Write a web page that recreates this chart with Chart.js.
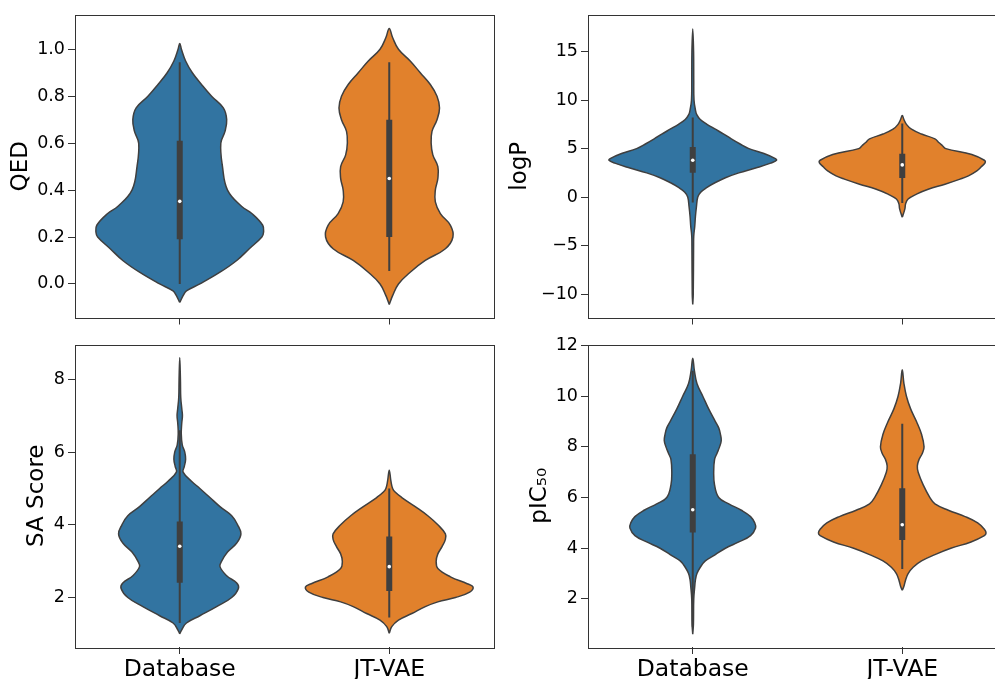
<!DOCTYPE html>
<html>
<head>
<meta charset="utf-8">
<script src="https://cdn.jsdelivr.net/npm/chart.js@4.4.0/dist/chart.umd.min.js"></script>
<style>
  html, body { margin: 0; padding: 0; background: #fff; overflow: hidden; }
  body { width: 995px; height: 679px; position: relative; }
  canvas { position: absolute; }
</style>
</head>
<body>
<canvas id="qed" style="left:0;top:0" width="500" height="331"></canvas>
<canvas id="logp" style="left:500px;top:0" width="520" height="331"></canvas>
<canvas id="sa" style="left:0;top:331px" width="500" height="348"></canvas>
<canvas id="pic" style="left:500px;top:331px" width="520" height="348"></canvas>
<script>
const groups = ['Database', 'JT-VAE'];

// QED
const qedTicks = [0, 0.2, 0.4, 0.6, 0.8, 1.0];
const qedDbY = [-0.079, -0.05, -0.03, 0, 0.05, 0.1, 0.15, 0.2, 0.22, 0.25, 0.3, 0.33, 0.4, 0.5, 0.6, 0.65, 0.7, 0.75, 0.8, 0.85, 0.9, 0.95, 1.0, 1.025];
const qedDbDens = [0, 0.04, 0.08, 0.24, 0.48, 0.68, 0.83, 0.98, 1.0, 0.99, 0.86, 0.74, 0.57, 0.51, 0.49, 0.54, 0.56, 0.52, 0.38, 0.26, 0.15, 0.07, 0.02, 0];
const qedJtY = [-0.088, -0.05, 0, 0.05, 0.1, 0.15, 0.2, 0.25, 0.3, 0.35, 0.4, 0.45, 0.5, 0.55, 0.6, 0.65, 0.7, 0.75, 0.8, 0.85, 0.9, 0.95, 1.0, 1.05, 1.089];
const qedJtDens = [0, 0.04, 0.11, 0.25, 0.43, 0.67, 0.76, 0.73, 0.61, 0.55, 0.55, 0.58, 0.58, 0.52, 0.5, 0.51, 0.57, 0.6, 0.57, 0.49, 0.37, 0.25, 0.11, 0.04, 0];
// whisker low, q1, median, q3, whisker high
const qedDbBox = [0.0, 0.19, 0.352, 0.61, 0.945];
const qedJtBox = [0.055, 0.20, 0.449, 0.70, 0.945];

// logP
const logpTicks = [-10, -5, 0, 5, 10, 15];
const logpDbY = [-11.08, -10, -5, -4, -3, -2, -1, 0, 0.5, 1, 1.5, 2, 2.5, 3, 3.5, 3.8, 4, 4.5, 5, 5.5, 6, 6.5, 7, 7.5, 8, 8.5, 9, 10, 12, 15, 17.34];
const logpDbDens = [0, 0.006, 0.01, 0.012, 0.024, 0.032, 0.044, 0.06, 0.095, 0.17, 0.27, 0.39, 0.55, 0.75, 0.93, 1.0, 0.98, 0.85, 0.67, 0.56, 0.46, 0.37, 0.27, 0.17, 0.09, 0.048, 0.032, 0.015, 0.012, 0.01, 0];
const logpJtY = [-2.09, -1.7, -1.2, -0.7, -0.2, 0.3, 0.8, 1.33, 1.85, 2.19, 2.7, 3.1, 3.56, 3.8, 4.4, 5.0, 5.3, 5.6, 6, 6.5, 7, 7.5, 8, 8.42];
const logpJtDens = [0, 0.015, 0.032, 0.04, 0.07, 0.17, 0.31, 0.51, 0.69, 0.79, 0.89, 0.94, 0.99, 0.98, 0.83, 0.52, 0.48, 0.44, 0.39, 0.23, 0.11, 0.05, 0.02, 0];
const logpDbBox = [-0.55, 2.5, 3.8, 5.16, 8.2];
const logpJtBox = [-0.62, 1.98, 3.32, 4.48, 7.6];

// SA Score
const saTicks = [2, 4, 6, 8];
const saDbY = [1.0, 1.1, 1.3, 1.5, 1.75, 2.0, 2.25, 2.4, 2.6, 2.85, 3.0, 3.25, 3.5, 3.75, 4.0, 4.25, 4.5, 4.75, 5.0, 5.2, 5.45, 5.6, 5.8, 6.0, 6.2, 6.5, 6.8, 7.0, 7.2, 7.5, 8.0, 8.6];
const saDbDens = [0, 0.02, 0.08, 0.24, 0.44, 0.62, 0.7, 0.68, 0.56, 0.48, 0.5, 0.57, 0.68, 0.73, 0.69, 0.62, 0.48, 0.36, 0.24, 0.14, 0.04, 0.054, 0.07, 0.06, 0.03, 0.018, 0.024, 0.032, 0.024, 0.012, 0.008, 0];
const saJtY = [1.02, 1.2, 1.38, 1.56, 1.75, 1.88, 2.0, 2.15, 2.29, 2.38, 2.57, 2.8, 3.0, 3.2, 3.4, 3.6, 3.75, 4.0, 4.25, 4.5, 4.75, 4.9, 5.0, 5.2, 5.5];
const saJtDens = [0, 0.03, 0.11, 0.27, 0.43, 0.58, 0.79, 0.96, 1.0, 0.93, 0.73, 0.58, 0.56, 0.58, 0.63, 0.67, 0.67, 0.58, 0.46, 0.31, 0.15, 0.07, 0.04, 0.02, 0];
const saDbBox = [1.3, 2.41, 3.41, 4.09, 6.6];
const saJtBox = [1.45, 2.18, 2.85, 3.68, 5.0];

// pIC50
const picTicks = [2, 4, 6, 8, 10, 12];
const picDbY = [0.61, 1.0, 2.0, 2.5, 2.75, 3.0, 3.25, 3.5, 3.75, 4.0, 4.25, 4.5, 4.8, 5.0, 5.25, 5.5, 5.75, 6.0, 6.5, 7.0, 7.5, 7.75, 8.0, 8.25, 8.5, 8.75, 9.0, 9.5, 10.0, 10.5, 11.0, 11.5];
const picDbDens = [0, 0.008, 0.012, 0.024, 0.032, 0.05, 0.09, 0.15, 0.27, 0.39, 0.55, 0.69, 0.75, 0.74, 0.69, 0.58, 0.43, 0.31, 0.26, 0.25, 0.26, 0.29, 0.32, 0.34, 0.33, 0.31, 0.27, 0.19, 0.12, 0.05, 0.02, 0];
const picJtY = [2.34, 2.5, 2.75, 3.0, 3.25, 3.5, 3.75, 4.0, 4.25, 4.5, 4.6, 4.75, 5.0, 5.25, 5.5, 5.75, 6.0, 6.5, 7.0, 7.25, 7.5, 7.75, 8.0, 8.5, 9.0, 9.5, 10.0, 10.5, 11.04];
const picJtDens = [0, 0.02, 0.04, 0.07, 0.13, 0.23, 0.39, 0.58, 0.82, 0.98, 1.0, 0.98, 0.9, 0.75, 0.55, 0.39, 0.33, 0.25, 0.19, 0.18, 0.2, 0.24, 0.26, 0.23, 0.17, 0.1, 0.05, 0.02, 0];
const picDbBox = [0.9, 4.62, 5.52, 7.71, 11.0];
const picJtBox = [3.18, 4.33, 4.93, 6.37, 8.91];

const FONT = 'DejaVu Sans';
const LINE = '#3f3f3f';
const COLORS = ['#3274a1', '#e1812c'];
const HALF = 0.4;

// full box around each axes
const frame = {
  id: 'frame',
  afterDraw(chart) {
    const { ctx, chartArea: a } = chart;
    ctx.save();
    ctx.strokeStyle = '#333';
    ctx.lineWidth = 1;
    ctx.strokeRect(Math.round(a.left) + 0.5, Math.round(a.top) + 0.5, Math.round(a.right - a.left), Math.round(a.bottom - a.top));
    ctx.restore();
  }
};

function violin(center, ys, dens) {
  const left = ys.map((y, i) => ({ x: center - HALF * dens[i], y: y }));
  const right = ys.map((y, i) => ({ x: center + HALF * dens[i], y: y })).reverse();
  return left.concat(right.slice(1));
}

function innerSets(center, b) {
  return [
    { data: [{ x: center, y: b[2] }], showLine: false, pointRadius: 1.8, pointBackgroundColor: '#fff', pointBorderWidth: 0 },
    { data: [{ x: center, y: b[1] }, { x: center, y: b[3] }], showLine: true, borderColor: LINE, borderWidth: 6, borderCapStyle: 'butt', pointRadius: 0 },
    { data: [{ x: center, y: b[0] }, { x: center, y: b[4] }], showLine: true, borderColor: LINE, borderWidth: 2, borderCapStyle: 'butt', pointRadius: 0 }
  ];
}

function panel(id, p) {
  const datasets = []
    .concat(innerSets(0, p.boxes[0]), innerSets(1, p.boxes[1]))
    .concat(p.violins.map((v, i) => ({
      data: violin(i, v[0], v[1]),
      showLine: true, tension: 0.4, borderColor: LINE, borderWidth: 1.5,
      backgroundColor: COLORS[i], fill: 'shape', pointRadius: 0
    })));

  new Chart(document.getElementById(id), {
    type: 'scatter',
    data: { datasets: datasets },
    options: {
      responsive: false, animation: false, events: [],
      layout: { padding: p.pad },
      plugins: { legend: { display: false }, tooltip: { enabled: false } },
      scales: {
        x: {
          type: 'linear', min: -0.5, max: 1.5,
          afterBuildTicks: s => { s.ticks = groups.map((g, i) => ({ value: i })); },
          afterFit: s => { s.height = p.xHeight; },
          grid: { drawOnChartArea: false, drawTicks: true, tickLength: 7, tickColor: '#333', tickWidth: 1 },
          border: { display: false },
          ticks: {
            callback: v => p.showX ? groups[v] : '',
            font: { family: FONT, size: 23.5 }, color: '#000', padding: 2, maxRotation: 0, autoSkip: false
          }
        },
        y: {
          type: 'linear', min: p.range[0], max: p.range[1],
          afterBuildTicks: s => { s.ticks = p.ticks.map(v => ({ value: v })); },
          afterFit: s => { s.width = p.yWidth; },
          grid: { drawOnChartArea: false, drawTicks: true, tickLength: 7, tickColor: '#333', tickWidth: 1 },
          border: { display: false },
          ticks: { callback: p.fmt, font: { family: FONT, size: 17.5 }, color: '#000', padding: 3 },
          title: {
            display: true, text: p.label, color: '#000',
            font: { family: FONT, size: 23 },
            padding: { top: p.titlePad, bottom: 0 }
          }
        }
      }
    },
    plugins: [frame]
  });
}

const minus = v => String(v).replace('-', '\u2212');

panel('qed', {
  label: 'QED', ticks: qedTicks, range: [-0.143, 1.146], fmt: v => v.toFixed(1),
  violins: [[qedDbY, qedDbDens], [qedJtY, qedJtDens]], boxes: [qedDbBox, qedJtBox],
  pad: { top: 15, right: 6, left: 0, bottom: 0 }, yWidth: 75, xHeight: 12, showX: false, titlePad: 7.5
});
panel('logp', {
  label: 'logP', ticks: logpTicks, range: [-12.42, 18.78], fmt: minus,
  violins: [[logpDbY, logpDbDens], [logpJtY, logpJtDens]], boxes: [logpDbBox, logpJtBox],
  pad: { top: 15, right: 13, left: 0, bottom: 0 }, yWidth: 88, xHeight: 12, showX: false, titlePad: 6.2
});
panel('sa', {
  label: 'SA Score', ticks: saTicks, range: [0.64, 8.958], fmt: minus,
  violins: [[saDbY, saDbDens], [saJtY, saJtDens]], boxes: [saDbBox, saJtBox],
  pad: { top: 12, right: 6, left: 0, bottom: 0 }, yWidth: 75, xHeight: 32, showX: true, titlePad: 23.2
});
panel('pic', {
  label: 'pIC\u2085\u2080', ticks: picTicks, range: [0.104, 12.04], fmt: minus,
  violins: [[picDbY, picDbDens], [picJtY, picJtDens]], boxes: [picDbBox, picJtBox],
  pad: { top: 12, right: 13, left: 0, bottom: 0 }, yWidth: 88, xHeight: 32, showX: true, titlePad: 26.2
});
</script>
</body>
</html>
